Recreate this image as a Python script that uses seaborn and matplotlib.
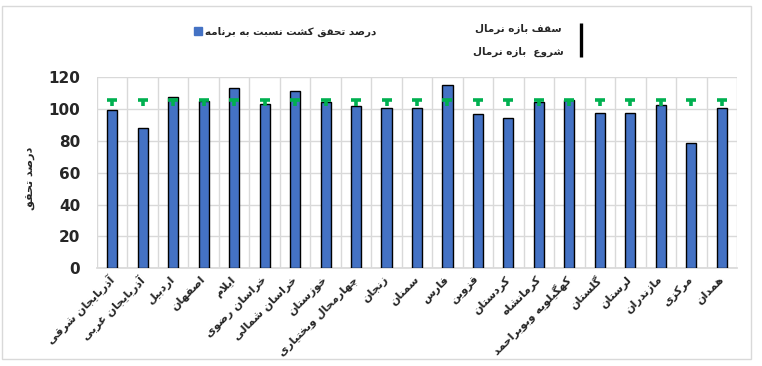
import matplotlib
matplotlib.use("Agg")
import matplotlib.pyplot as plt
import seaborn as sns
import pandas as pd
from matplotlib.patches import Patch, Rectangle
from matplotlib.lines import Line2D
from matplotlib.ticker import FixedLocator

provinces = [
    "آذربایجان شرقی", "آذربایجان غربی", "اردبیل", "اصفهان", "ایلام",
    "خراسان رضوی", "خراسان شمالی", "خوزستان", "چهارمحال وبختیاری", "زنجان",
    "سمنان", "فارس", "قزوین", "کردستان", "کرمانشاه",
    "کهگیلویه وبویراحمد", "گلستان", "لرستان", "مازندران", "مرکزی", "همدان",
]
achieved = [99.5, 88, 107.5, 105, 113.5, 103.5, 111.5, 104.5, 102, 100.5,
            101, 115, 97, 94.5, 104.5, 106, 97.5, 97.5, 102.5, 79, 100.5]
normal_low = [102, 102, 102, 102, 102, 102, 102, 102, 102, 102, 102,
              102, 102, 102, 102, 102, 102, 102, 102, 102, 102]
normal_high = [106, 106, 106, 106, 106, 106, 106, 106, 106, 106, 106,
               106, 106, 106, 106, 106, 106, 106, 106, 106, 106]
yticks = [0, 20, 40, 60, 80, 100, 120]

series_label = "درصد تحقق کشت نسبت به برنامه"
ceiling_label = "سقف بازه نرمال"
start_label = "شروع  بازه نرمال"
y_title = "درصد تحقق"

# --- minimal Persian shaping (matplotlib has no complex text layout) ---
FORMS = {
    '\u0622': ('\uFE81', '\uFE82', None, None),
    '\u0627': ('\uFE8D', '\uFE8E', None, None),
    '\u0628': ('\uFE8F', '\uFE90', '\uFE91', '\uFE92'),
    '\u067E': ('\uFB56', '\uFB57', '\uFB58', '\uFB59'),
    '\u062A': ('\uFE95', '\uFE96', '\uFE97', '\uFE98'),
    '\u062B': ('\uFE99', '\uFE9A', '\uFE9B', '\uFE9C'),
    '\u062C': ('\uFE9D', '\uFE9E', '\uFE9F', '\uFEA0'),
    '\u0686': ('\uFB7A', '\uFB7B', '\uFB7C', '\uFB7D'),
    '\u062D': ('\uFEA1', '\uFEA2', '\uFEA3', '\uFEA4'),
    '\u062E': ('\uFEA5', '\uFEA6', '\uFEA7', '\uFEA8'),
    '\u062F': ('\uFEA9', '\uFEAA', None, None),
    '\u0630': ('\uFEAB', '\uFEAC', None, None),
    '\u0631': ('\uFEAD', '\uFEAE', None, None),
    '\u0632': ('\uFEAF', '\uFEB0', None, None),
    '\u0698': ('\uFB8A', '\uFB8B', None, None),
    '\u0633': ('\uFEB1', '\uFEB2', '\uFEB3', '\uFEB4'),
    '\u0634': ('\uFEB5', '\uFEB6', '\uFEB7', '\uFEB8'),
    '\u0635': ('\uFEB9', '\uFEBA', '\uFEBB', '\uFEBC'),
    '\u0636': ('\uFEBD', '\uFEBE', '\uFEBF', '\uFEC0'),
    '\u0637': ('\uFEC1', '\uFEC2', '\uFEC3', '\uFEC4'),
    '\u0638': ('\uFEC5', '\uFEC6', '\uFEC7', '\uFEC8'),
    '\u0639': ('\uFEC9', '\uFECA', '\uFECB', '\uFECC'),
    '\u063A': ('\uFECD', '\uFECE', '\uFECF', '\uFED0'),
    '\u0641': ('\uFED1', '\uFED2', '\uFED3', '\uFED4'),
    '\u0642': ('\uFED5', '\uFED6', '\uFED7', '\uFED8'),
    '\u06A9': ('\uFB8E', '\uFB8F', '\uFB90', '\uFB91'),
    '\u06AF': ('\uFB92', '\uFB93', '\uFB94', '\uFB95'),
    '\u0644': ('\uFEDD', '\uFEDE', '\uFEDF', '\uFEE0'),
    '\u0645': ('\uFEE1', '\uFEE2', '\uFEE3', '\uFEE4'),
    '\u0646': ('\uFEE5', '\uFEE6', '\uFEE7', '\uFEE8'),
    '\u0647': ('\uFEE9', '\uFEEA', '\uFEEB', '\uFEEC'),
    '\u0648': ('\uFEED', '\uFEEE', None, None),
    '\u06CC': ('\uFBFC', '\uFBFD', '\uFBFE', '\uFBFF'),
    '\u064A': ('\uFEF1', '\uFEF2', '\uFEF3', '\uFEF4'),
}
LAM_ALEF = {'\u0627': ('\uFEFB', '\uFEFC'), '\u0622': ('\uFEF5', '\uFEF6')}


def fa(text):
    chars = [c for c in text if c != '\u200c']
    n = len(chars)
    res = []
    i = 0
    while i < n:
        c = chars[i]
        if c not in FORMS:
            res.append(c)
            i += 1
            continue
        prev = chars[i - 1] if i > 0 else None
        join_prev = prev in FORMS and FORMS[prev][2] is not None
        if c == '\u0644' and i + 1 < n and chars[i + 1] in LAM_ALEF:
            lig = LAM_ALEF[chars[i + 1]]
            res.append(lig[1] if join_prev else lig[0])
            i += 2
            continue
        nxt = chars[i + 1] if i + 1 < n else None
        iso, fin, ini, med = FORMS[c]
        join_next = ini is not None and nxt in FORMS
        if join_prev and join_next:
            res.append(med)
        elif join_prev:
            res.append(fin)
        elif join_next:
            res.append(ini)
        else:
            res.append(iso)
        i += 1
    return ''.join(reversed(res))


sns.set_theme(style="white")
plt.rcParams['font.family'] = ['DejaVu Sans']

W, H = 762, 366
fig = plt.figure(figsize=(W / 100, H / 100), dpi=100)
fig.patch.set_facecolor("white")
fig.add_artist(Rectangle((2 / W, 1 - 359 / H), 749 / W, 353 / H,
                         transform=fig.transFigure, fill=False,
                         edgecolor="#d9d9d9", linewidth=1))

ax = fig.add_axes([97 / W, 1 - 268.3 / H, 640 / W, 191 / H])

df = pd.DataFrame({"province": provinces, "achieved": achieved})
sns.barplot(data=df, x="province", y="achieved", color="#4472C4",
            saturation=1, width=0.33, edgecolor="black", linewidth=1.0,
            ax=ax, zorder=3)

xs = list(range(len(provinces)))
green = "#00B050"
ax.vlines(xs, normal_low, normal_high, colors=green, linewidth=2.6, zorder=4)
ax.scatter(xs, normal_high, marker="_", s=45, linewidths=2.6, color=green, zorder=4)

ax.set_xlim(-0.5, len(provinces) - 0.5)
ax.set_ylim(0, 120)
ax.yaxis.set_major_locator(FixedLocator(yticks))
ax.xaxis.set_minor_locator(FixedLocator([i + 0.5 for i in range(-1, len(provinces))]))
ax.grid(axis="y", which="major", color="#d9d9d9", linewidth=1, zorder=0)
ax.grid(axis="x", which="minor", color="#d9d9d9", linewidth=1, zorder=0)
ax.set_axisbelow(True)
for s in ["top", "right", "left"]:
    ax.spines[s].set_visible(False)
ax.spines["bottom"].set_color("#d9d9d9")

ax.set_xticks(xs)
ax.set_xticklabels([fa(p) for p in provinces], rotation=45, ha="right",
                   va="center", rotation_mode="anchor", fontsize=8,
                   fontweight="bold")
ax.tick_params(axis="x", which="both", length=0, pad=7)
ax.tick_params(axis="y", length=0, pad=12, labelsize=11)
for t in ax.get_yticklabels():
    t.set_fontweight("bold")
ax.set_xlabel("")
ax.set_ylabel(fa(y_title), fontsize=8, fontweight="bold", labelpad=12)
ax.yaxis.set_label_coords(-0.095, 0.47)

# legends
leg = ax.legend(handles=[Patch(facecolor="#4472C4", edgecolor="#4472C4")],
                labels=[fa(series_label)], loc="center",
                bbox_to_anchor=(285 / W, 1 - 32 / H),
                bbox_transform=fig.transFigure, frameon=False,
                handlelength=0.75, handleheight=0.75, handletextpad=0.3,
                borderpad=0, prop={"weight": "bold", "size": 7.5})

fig.text(562 / W, 1 - 29 / H, fa(ceiling_label), ha="right", va="center",
         fontsize=7.5, fontweight="bold")
fig.text(564 / W, 1 - 52 / H, fa(start_label), ha="right", va="center",
         fontsize=7.5, fontweight="bold")
fig.add_artist(Line2D([581 / W, 581 / W], [1 - 23 / H, 1 - 57 / H],
                      transform=fig.transFigure, color="black", linewidth=2.4,
                      solid_capstyle="butt"))

fig.savefig("out.png", dpi=100)
